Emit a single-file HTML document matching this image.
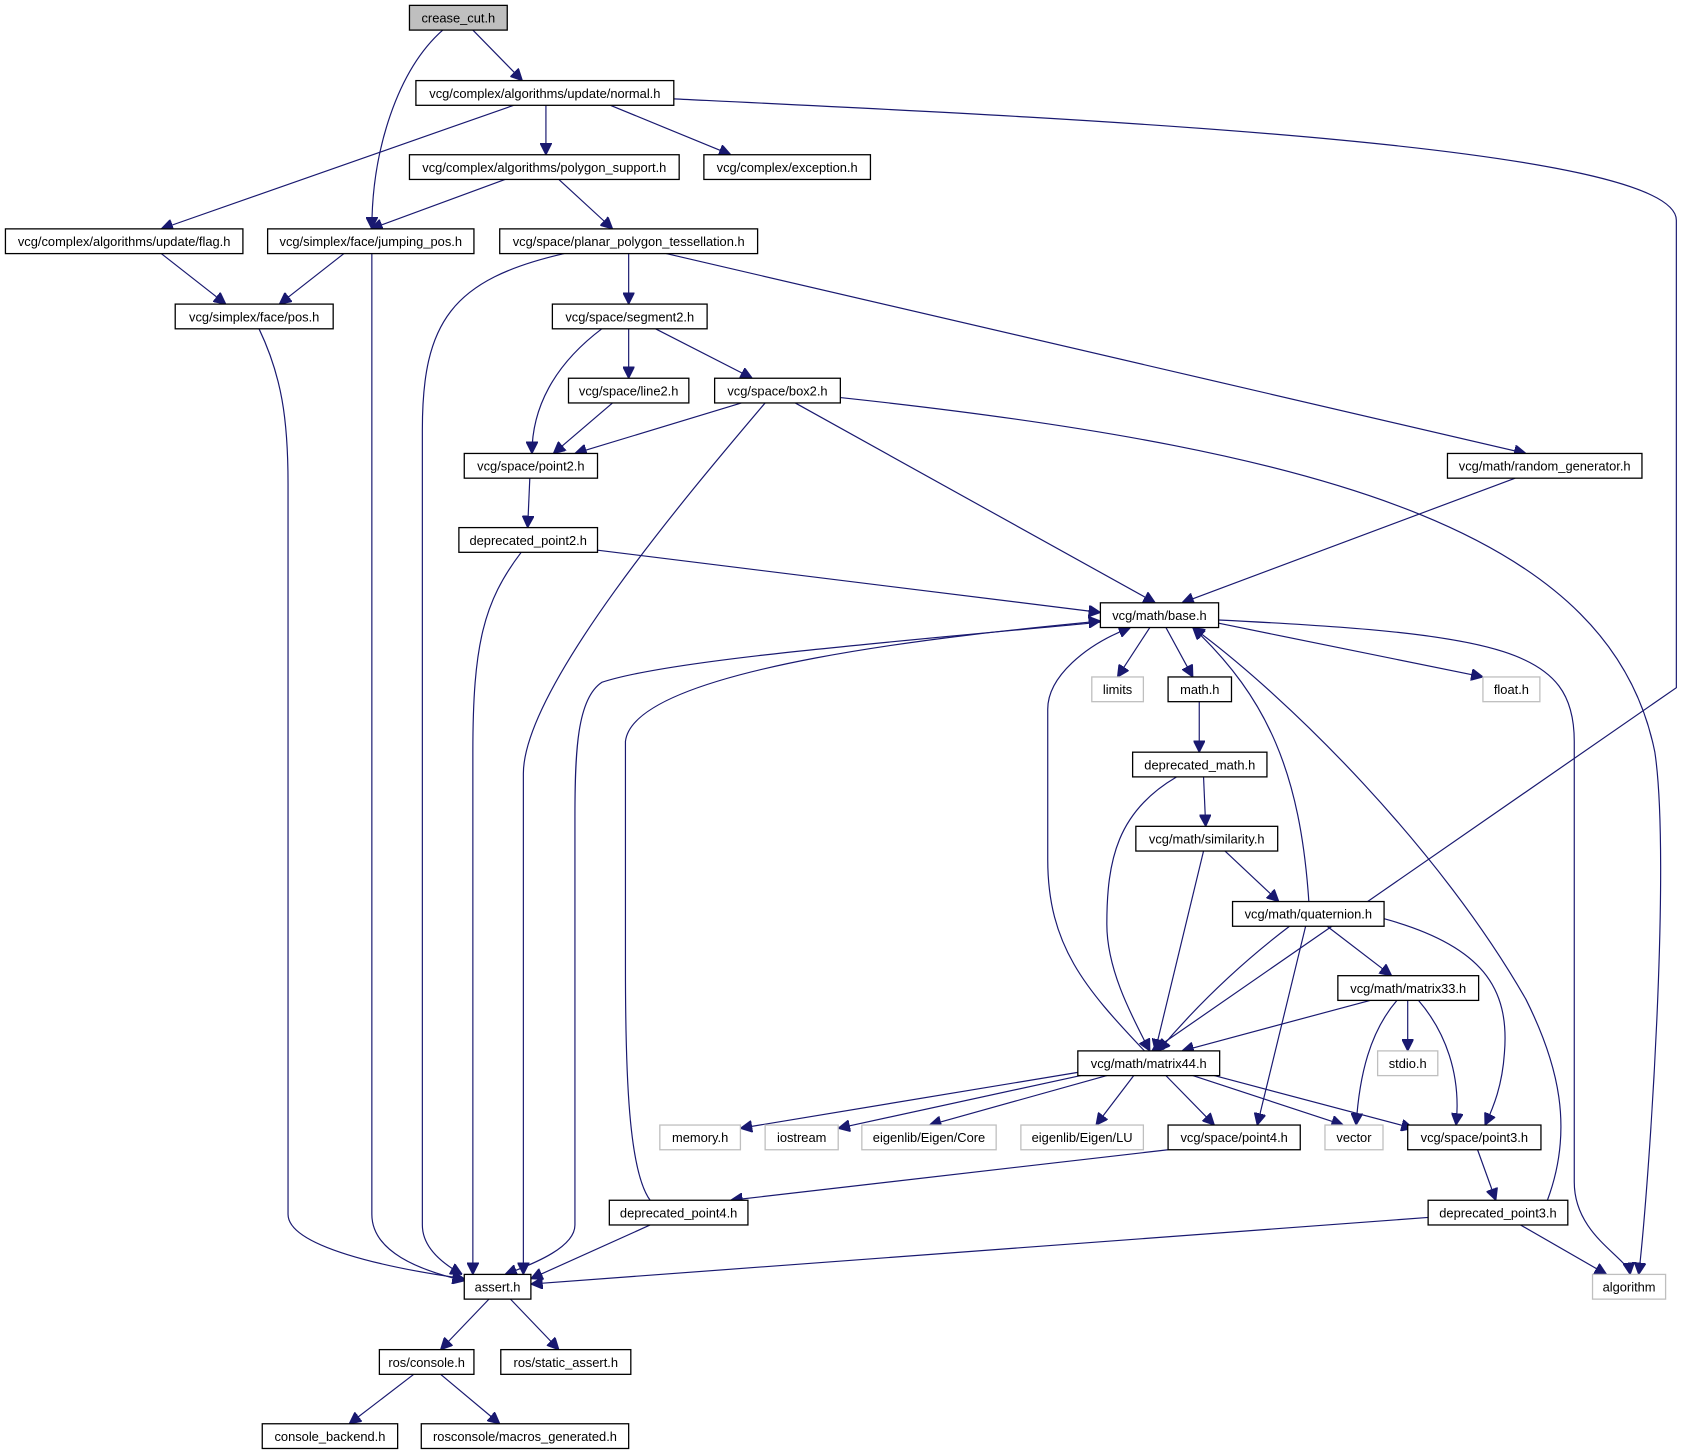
<!DOCTYPE html>
<html><head><meta charset="utf-8"><style>
html,body{margin:0;padding:0;background:#fff}
svg{display:block}
text{font-family:"Liberation Sans",Helvetica,Arial,sans-serif;font-size:12px;fill:#000}
.e{fill:none;stroke:#191970;stroke-width:1.1}
.n{fill:#fff;stroke:#000;stroke-width:1.2}
.g{fill:#fff;stroke:#bfbfbf;stroke-width:1.2}
</style></head><body>
<svg width="1685" height="1456" viewBox="0 0 1568 1355" xmlns="http://www.w3.org/2000/svg">
<defs><marker id="a" viewBox="0 0 10 10" refX="10" refY="5" markerWidth="11" markerHeight="11" markerUnits="userSpaceOnUse" orient="auto"><path d="M0,0 L10,5 L0,10 z" fill="#191970" stroke="#191970"/></marker></defs>
<g marker-end="url(#a)">
<path class="e" d="M440,28 L486,75"/>
<path class="e" d="M412,28 C370,65 346,140 346,213"/>
<path class="e" d="M478,98 L150,213"/>
<path class="e" d="M508,98 L508,144"/>
<path class="e" d="M568,98 L680,144"/>
<path class="e" d="M627,92 C1000,110 1560,135 1560,205 L1560,640 L1072,978"/>
<path class="e" d="M470,167 L345,213"/>
<path class="e" d="M520,167 L570,213"/>
<path class="e" d="M150,236 L210,283"/>
<path class="e" d="M320,236 L260,283"/>
<path class="e" d="M346,236 L346,1130 C346,1165 390,1182 432,1192"/>
<path class="e" d="M241,306 C262,350 268,390 268,450 L268,1130 C268,1160 360,1180 432,1190"/>
<path class="e" d="M525,236 C420,260 393,300 393,400 L393,1140 C393,1160 410,1175 430,1186"/>
<path class="e" d="M585,236 L585,283"/>
<path class="e" d="M620,236 L1420,422"/>
<path class="e" d="M560,306 C515,340 495,380 495,422"/>
<path class="e" d="M585,306 L585,352"/>
<path class="e" d="M610,306 L700,352"/>
<path class="e" d="M570,375 L515,422"/>
<path class="e" d="M690,375 L535,422"/>
<path class="e" d="M712,375 C640,460 487,640 487,720 L487,1186"/>
<path class="e" d="M740,375 L1075,561"/>
<path class="e" d="M782,370 C1250,420 1500,500 1540,700 C1555,800 1535,1100 1525,1186"/>
<path class="e" d="M1410,445 L1100,561"/>
<path class="e" d="M493,445 L491,491"/>
<path class="e" d="M485,514 C450,560 440,600 440,700 L440,1186"/>
<path class="e" d="M556,512 L1024,570"/>
<path class="e" d="M1070,584 L1040,630"/>
<path class="e" d="M1085,584 L1110,630"/>
<path class="e" d="M1134,580 L1380,630"/>
<path class="e" d="M1134,577 C1400,590 1465,605 1465,690 L1465,1100 C1465,1150 1515,1170 1517,1186"/>
<path class="e" d="M1024,579 C800,600 620,615 560,635 C537,650 535,700 535,760 L535,1140 C535,1160 500,1175 470,1186"/>
<path class="e" d="M605,1117 C585,1090 582,1000 582,900 L582,690 C590,620 900,590 1024,578"/>
<path class="e" d="M1116,653 L1116,700"/>
<path class="e" d="M1120,723 L1122,769"/>
<path class="e" d="M1095,723 C1040,755 1030,800 1030,860 C1030,900 1050,940 1070,978"/>
<path class="e" d="M1140,792 L1190,839"/>
<path class="e" d="M1120,792 L1075,978"/>
<path class="e" d="M1218,839 C1210,720 1180,650 1110,584"/>
<path class="e" d="M1200,862 C1150,900 1110,940 1078,978"/>
<path class="e" d="M1215,862 L1170,1047"/>
<path class="e" d="M1235,862 L1295,908"/>
<path class="e" d="M1288,855 C1380,880 1405,920 1400,980 C1398,1010 1390,1030 1382,1047"/>
<path class="e" d="M1275,931 L1100,978"/>
<path class="e" d="M1310,931 L1310,978"/>
<path class="e" d="M1300,931 C1275,960 1265,1000 1262,1047"/>
<path class="e" d="M1320,931 C1345,960 1360,1000 1355,1047"/>
<path class="e" d="M1065,978 C1010,920 975,880 975,800 L975,660 C975,630 1010,600 1052,584"/>
<path class="e" d="M1003,998 L689,1050"/>
<path class="e" d="M1010,1000 L780,1050"/>
<path class="e" d="M1030,1001 L865,1047"/>
<path class="e" d="M1055,1001 L1020,1047"/>
<path class="e" d="M1085,1001 L1130,1047"/>
<path class="e" d="M1110,1001 L1250,1047"/>
<path class="e" d="M1130,1001 L1315,1050"/>
<path class="e" d="M1087,1070 L680,1117"/>
<path class="e" d="M1375,1070 L1392,1117"/>
<path class="e" d="M1440,1117 C1465,1050 1450,990 1420,930 C1340,790 1200,650 1110,584"/>
<path class="e" d="M1329,1133 L494,1195"/>
<path class="e" d="M1415,1140 L1495,1186"/>
<path class="e" d="M605,1140 L494,1190"/>
<path class="e" d="M455,1209 L410,1256"/>
<path class="e" d="M475,1209 L520,1256"/>
<path class="e" d="M385,1279 L325,1325"/>
<path class="e" d="M410,1279 L465,1325"/>
</g>
<g text-anchor="middle">
<rect x="381" y="5" width="91" height="23" fill="#bfbfbf" stroke="#000" stroke-width="1.2"/><text x="426.5" y="21">crease_cut.h</text>
<rect class="n" x="387" y="75" width="240" height="23"/><text x="507" y="91">vcg/complex/algorithms/update/normal.h</text>
<rect class="n" x="381" y="144" width="251" height="23"/><text x="506.5" y="160">vcg/complex/algorithms/polygon_support.h</text>
<rect class="n" x="655" y="144" width="155" height="23"/><text x="732.5" y="160">vcg/complex/exception.h</text>
<rect class="n" x="5" y="213" width="221" height="23"/><text x="115.5" y="229">vcg/complex/algorithms/update/flag.h</text>
<rect class="n" x="249" y="213" width="192" height="23"/><text x="345" y="229">vcg/simplex/face/jumping_pos.h</text>
<rect class="n" x="465" y="213" width="240" height="23"/><text x="585" y="229">vcg/space/planar_polygon_tessellation.h</text>
<rect class="n" x="163" y="283" width="147" height="23"/><text x="236.5" y="299">vcg/simplex/face/pos.h</text>
<rect class="n" x="514" y="283" width="144" height="23"/><text x="586" y="299">vcg/space/segment2.h</text>
<rect class="n" x="529" y="352" width="112" height="23"/><text x="585" y="368">vcg/space/line2.h</text>
<rect class="n" x="665" y="352" width="117" height="23"/><text x="723.5" y="368">vcg/space/box2.h</text>
<rect class="n" x="1347" y="422" width="181" height="23"/><text x="1437.5" y="438">vcg/math/random_generator.h</text>
<rect class="n" x="432" y="422" width="124" height="23"/><text x="494" y="438">vcg/space/point2.h</text>
<rect class="n" x="427" y="491" width="129" height="23"/><text x="491.5" y="507">deprecated_point2.h</text>
<rect class="n" x="1024" y="561" width="110" height="23"/><text x="1079" y="577">vcg/math/base.h</text>
<rect class="g" x="1016" y="630" width="48" height="23"/><text x="1040" y="646">limits</text>
<rect class="n" x="1087" y="630" width="59" height="23"/><text x="1116.5" y="646">math.h</text>
<rect class="g" x="1380" y="630" width="53" height="23"/><text x="1406.5" y="646">float.h</text>
<rect class="n" x="1054" y="700" width="125" height="23"/><text x="1116.5" y="716">deprecated_math.h</text>
<rect class="n" x="1057" y="769" width="132" height="23"/><text x="1123" y="785">vcg/math/similarity.h</text>
<rect class="n" x="1147" y="839" width="141" height="23"/><text x="1217.5" y="855">vcg/math/quaternion.h</text>
<rect class="n" x="1245" y="908" width="131" height="23"/><text x="1310.5" y="924">vcg/math/matrix33.h</text>
<rect class="g" x="1282" y="978" width="56" height="23"/><text x="1310" y="994">stdio.h</text>
<rect class="n" x="1003" y="978" width="132" height="23"/><text x="1069" y="994">vcg/math/matrix44.h</text>
<rect class="g" x="614" y="1047" width="75" height="23"/><text x="651.5" y="1063">memory.h</text>
<rect class="g" x="712" y="1047" width="68" height="23"/><text x="746" y="1063">iostream</text>
<rect class="g" x="802" y="1047" width="125" height="23"/><text x="864.5" y="1063">eigenlib/Eigen/Core</text>
<rect class="g" x="950" y="1047" width="114" height="23"/><text x="1007" y="1063">eigenlib/Eigen/LU</text>
<rect class="n" x="1087" y="1047" width="123" height="23"/><text x="1148.5" y="1063">vcg/space/point4.h</text>
<rect class="g" x="1233" y="1047" width="54" height="23"/><text x="1260" y="1063">vector</text>
<rect class="n" x="1310" y="1047" width="124" height="23"/><text x="1372" y="1063">vcg/space/point3.h</text>
<rect class="n" x="567" y="1117" width="129" height="23"/><text x="631.5" y="1133">deprecated_point4.h</text>
<rect class="n" x="1329" y="1117" width="130" height="23"/><text x="1394" y="1133">deprecated_point3.h</text>
<rect class="n" x="432" y="1186" width="62" height="23"/><text x="463" y="1202">assert.h</text>
<rect class="g" x="1482" y="1186" width="68" height="23"/><text x="1516" y="1202">algorithm</text>
<rect class="n" x="353" y="1256" width="88" height="23"/><text x="397" y="1272">ros/console.h</text>
<rect class="n" x="466" y="1256" width="121" height="23"/><text x="526.5" y="1272">ros/static_assert.h</text>
<rect class="n" x="244" y="1325" width="126" height="23"/><text x="307" y="1341">console_backend.h</text>
<rect class="n" x="392" y="1325" width="193" height="23"/><text x="488.5" y="1341">rosconsole/macros_generated.h</text>
</g>
</svg>
</body></html>
